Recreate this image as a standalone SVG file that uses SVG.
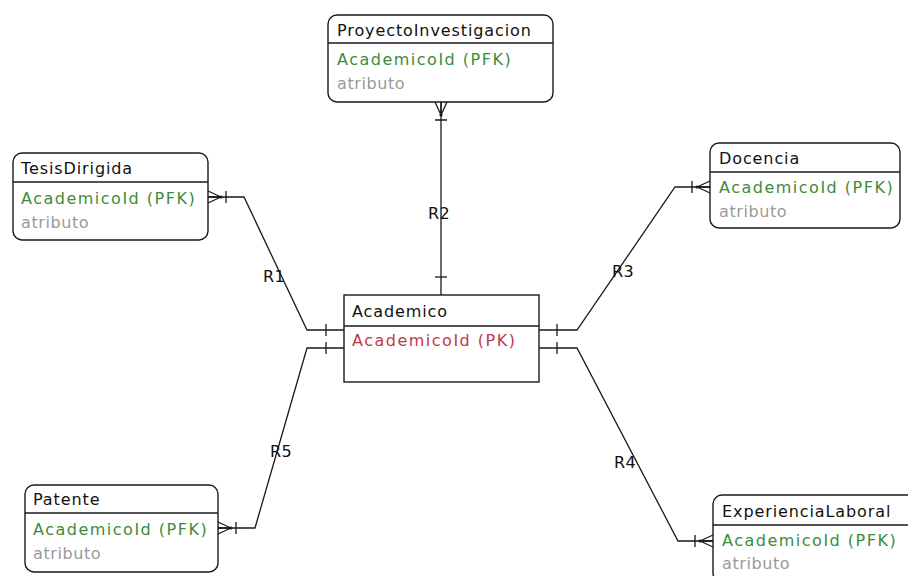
<svg xmlns="http://www.w3.org/2000/svg" width="908" height="576" viewBox="0 0 908 576">
  <style>
    .box { fill: #ffffff; stroke: #1a1a1a; stroke-width: 1.4; }
    .sep { stroke: #1a1a1a; stroke-width: 1.4; }
    text { font-family: "DejaVu Sans", "Liberation Sans", sans-serif; font-size: 16px; }
    .title { fill: #111111; letter-spacing: 0.9px; }
    .fk { fill: #3c8c3c; letter-spacing: 1.5px; }
    .pk { fill: #c0394b; letter-spacing: 1.5px; }
    .attr { fill: #9a9a9a; letter-spacing: 0.6px; }
    .rel { fill: #111111; letter-spacing: 0.5px; }
    .link { fill: none; stroke: #1a1a1a; stroke-width: 1.3; }
    .mk { fill: none; stroke: #1a1a1a; stroke-width: 1.3; }
  </style>
  <defs>
    <!-- crow's foot (many) + bar, placed at the child entity end -->
    <marker id="many" markerUnits="userSpaceOnUse" markerWidth="30" markerHeight="20" refX="0" refY="10" orient="auto" overflow="visible">
      <path class="mk" d="M0,4 L13,10 M0,16 L13,10 M0,10 L13,10 M18,4 V16"/>
      <circle cx="13" cy="10" r="1.6" fill="#1a1a1a"/>
    </marker>
    <!-- single bar (one), placed at the parent entity end -->
    <marker id="one" markerUnits="userSpaceOnUse" markerWidth="30" markerHeight="20" refX="20" refY="10" orient="auto" overflow="visible">
      <path class="mk" d="M2,4 V16"/>
    </marker>
  </defs>

  <g id="connectors">
    <path id="R1" class="link" d="M208,197 H244 L307,330 H344" marker-start="url(#many)" marker-end="url(#one)"/>
    <path id="R2" class="link" d="M441,102 V295" marker-start="url(#many)" marker-end="url(#one)"/>
    <path id="R3" class="link" d="M710,187 H675 L577,330 H539" marker-start="url(#many)" marker-end="url(#one)"/>
    <path id="R4" class="link" d="M713,541 H678 L577,348 H539" marker-start="url(#many)" marker-end="url(#one)"/>
    <path id="R5" class="link" d="M218,528 H255 L307,348 H344" marker-start="url(#many)" marker-end="url(#one)"/>
    <text class="rel" x="263" y="282">R1</text>
    <text class="rel" x="428" y="219">R2</text>
    <text class="rel" x="612" y="277">R3</text>
    <text class="rel" x="614" y="468">R4</text>
    <text class="rel" x="270" y="457">R5</text>
  </g>

  <g id="ProyectoInvestigacion">
    <rect class="box" x="328" y="15" width="225" height="87" rx="9"/>
    <line class="sep" x1="328" y1="43" x2="553" y2="43"/>
    <text class="title" x="337" y="36">ProyectoInvestigacion</text>
    <text class="fk" x="337" y="65">AcademicoId (PFK)</text>
    <text class="attr" x="337" y="89">atributo</text>
  </g>

  <g id="TesisDirigida">
    <rect class="box" x="13" y="153" width="195" height="87" rx="9"/>
    <line class="sep" x1="13" y1="182" x2="208" y2="182"/>
    <text class="title" x="21" y="174">TesisDirigida</text>
    <text class="fk" x="21" y="204">AcademicoId (PFK)</text>
    <text class="attr" x="21" y="228">atributo</text>
  </g>

  <g id="Docencia">
    <rect class="box" x="710" y="143" width="190" height="85" rx="9"/>
    <line class="sep" x1="710" y1="172" x2="900" y2="172"/>
    <text class="title" x="719" y="164">Docencia</text>
    <text class="fk" x="719" y="193">AcademicoId (PFK)</text>
    <text class="attr" x="719" y="217">atributo</text>
  </g>

  <g id="Academico">
    <rect class="box" x="344" y="295" width="195" height="87"/>
    <line class="sep" x1="344" y1="326" x2="539" y2="326"/>
    <text class="title" x="352" y="317">Academico</text>
    <text class="pk" x="352" y="346">AcademicoId (PK)</text>
  </g>

  <g id="Patente">
    <rect class="box" x="25" y="485" width="193" height="87" rx="9"/>
    <line class="sep" x1="25" y1="513" x2="218" y2="513"/>
    <text class="title" x="33" y="505">Patente</text>
    <text class="fk" x="33" y="535">AcademicoId (PFK)</text>
    <text class="attr" x="33" y="559">atributo</text>
  </g>

  <g id="ExperienciaLaboral">
    <rect class="box" x="713" y="495" width="205" height="87" rx="9"/>
    <line class="sep" x1="713" y1="525" x2="918" y2="525"/>
    <text class="title" x="722" y="517">ExperienciaLaboral</text>
    <text class="fk" x="722" y="546">AcademicoId (PFK)</text>
    <text class="attr" x="722" y="569">atributo</text>
  </g>
</svg>
